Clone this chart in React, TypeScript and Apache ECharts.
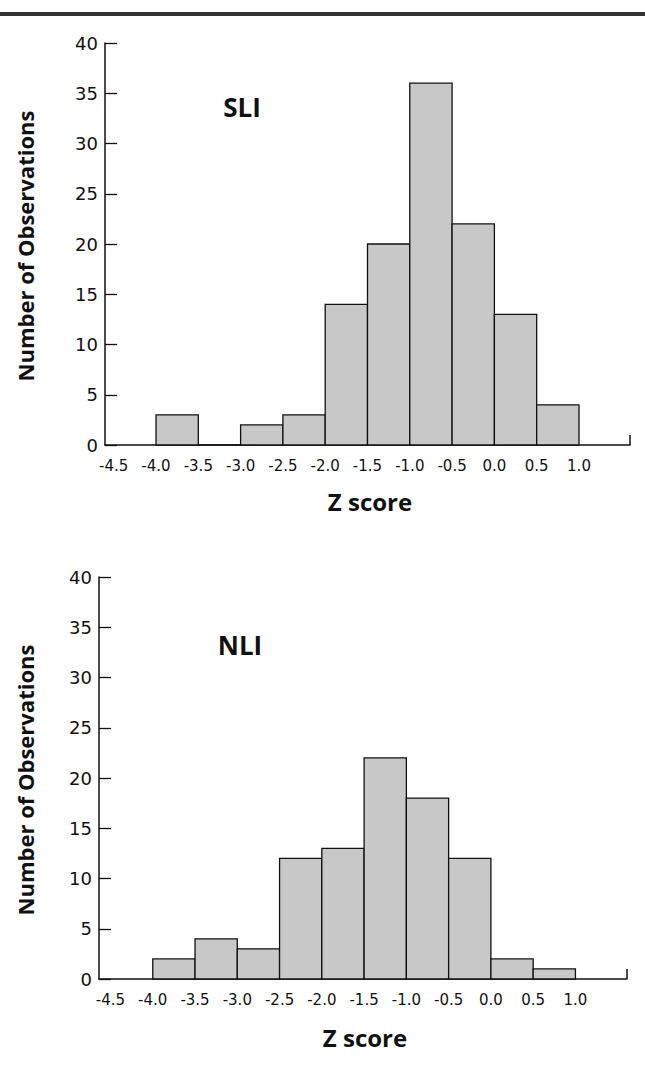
import React, { useEffect, useRef } from "react";
import * as echarts from "echarts";

// ---- data ----
const binStarts = [-4.0, -3.5, -3.0, -2.5, -2.0, -1.5, -1.0, -0.5, 0.0, 0.5];
const binWidth = 0.5;
const sliCounts = [3, 0, 2, 3, 14, 20, 36, 22, 13, 4];
const nliCounts = [2, 4, 3, 12, 13, 22, 18, 12, 2, 1];
const xTickValues = [-4.5, -4.0, -3.5, -3.0, -2.5, -2.0, -1.5, -1.0, -0.5, 0.0, 0.5, 1.0];
const panelLabels = ["SLI", "NLI"];
const xAxisTitle = "Z score";
const yAxisTitle = "Number of Observations";

const TICK_FONT = "DejaVu Sans";
const TITLE_FONT = "Open Sans";

function histData(counts: number[]) {
  return binStarts.map((s, i) => [s, s + binWidth, counts[i]]);
}

function renderBar(params: any, api: any) {
  const lo = api.value(0);
  const hi = api.value(1);
  const v = api.value(2);
  const p0 = api.coord([lo, v]);
  const p1 = api.coord([hi, 0]);
  return {
    type: "rect",
    shape: { x: p0[0], y: p0[1], width: p1[0] - p0[0], height: p1[1] - p0[1] },
    style: { fill: "#c8c8c8", stroke: "#111", lineWidth: 1.3 },
  };
}

function xAxisCfg(gridIndex: number, min: number, max: number) {
  return {
    type: "value",
    gridIndex,
    min,
    max,
    axisLine: { show: true, onZero: false, lineStyle: { color: "#111", width: 1.5 } },
    axisTick: {
      show: true,
      inside: true,
      length: 10,
      customValues: [max],
      lineStyle: { color: "#111", width: 1.5 },
    },
    axisLabel: {
      customValues: xTickValues,
      formatter: (v: number) => v.toFixed(1),
      fontFamily: TICK_FONT,
      fontSize: 15,
      color: "#111",
      margin: 13,
    },
    splitLine: { show: false },
  };
}

function yAxisCfg(gridIndex: number) {
  return {
    type: "value",
    gridIndex,
    min: 0,
    max: 40,
    interval: 5,
    axisLine: { show: true, onZero: false, lineStyle: { color: "#111", width: 1.5 } },
    axisTick: { show: true, inside: true, length: 12, lineStyle: { color: "#111", width: 1.3 } },
    axisLabel: { fontFamily: TICK_FONT, fontSize: 18, color: "#111", margin: 7 },
    splitLine: { show: false },
  };
}

export default function App() {
  const ref = useRef<HTMLDivElement>(null);

  useEffect(() => {
    if (!ref.current) return;
    const chart = echarts.init(ref.current, undefined, { renderer: "svg" });
    const titleStyle = (text: string, size: number) => ({
      text,
      font: `bold ${size}px "${TITLE_FONT}"`,
      fill: "#111",
      align: "center",
      verticalAlign: "middle",
    });
    chart.setOption({
      animation: false,
      backgroundColor: "#ffffff",
      grid: [
        { left: 105, top: 43, width: 525, height: 402 },
        { left: 99, top: 577, width: 528, height: 402 },
      ],
      xAxis: [xAxisCfg(0, -4.603, 1.603), xAxisCfg(1, -4.636, 1.61)],
      yAxis: [yAxisCfg(0), yAxisCfg(1)],
      series: [
        {
          type: "custom",
          name: panelLabels[0],
          xAxisIndex: 0,
          yAxisIndex: 0,
          renderItem: renderBar,
          encode: { x: [0, 1], y: 2 },
          data: histData(sliCounts),
        },
        {
          type: "custom",
          name: panelLabels[1],
          xAxisIndex: 1,
          yAxisIndex: 1,
          renderItem: renderBar,
          encode: { x: [0, 1], y: 2 },
          data: histData(nliCounts),
        },
      ],
      graphic: [
        { type: "rect", left: 0, top: 12, shape: { x: 0, y: 0, width: 645, height: 4 }, style: { fill: "#333" } },
        { type: "text", x: 242, y: 107, style: titleStyle(panelLabels[0], 26) },
        { type: "text", x: 240, y: 645, style: titleStyle(panelLabels[1], 26) },
        { type: "text", x: 370, y: 501, style: titleStyle(xAxisTitle, 24) },
        { type: "text", x: 365, y: 1037, style: titleStyle(xAxisTitle, 24) },
        { type: "text", x: 25, y: 246, rotation: Math.PI / 2, style: titleStyle(yAxisTitle, 22) },
        { type: "text", x: 25, y: 780, rotation: Math.PI / 2, style: titleStyle(yAxisTitle, 22) },
      ],
    });
    return () => chart.dispose();
  }, []);

  return (
    <div
      ref={ref}
      style={{ position: "absolute", left: 0, top: 0, width: 645, height: 1073, background: "#fff" }}
    />
  );
}
